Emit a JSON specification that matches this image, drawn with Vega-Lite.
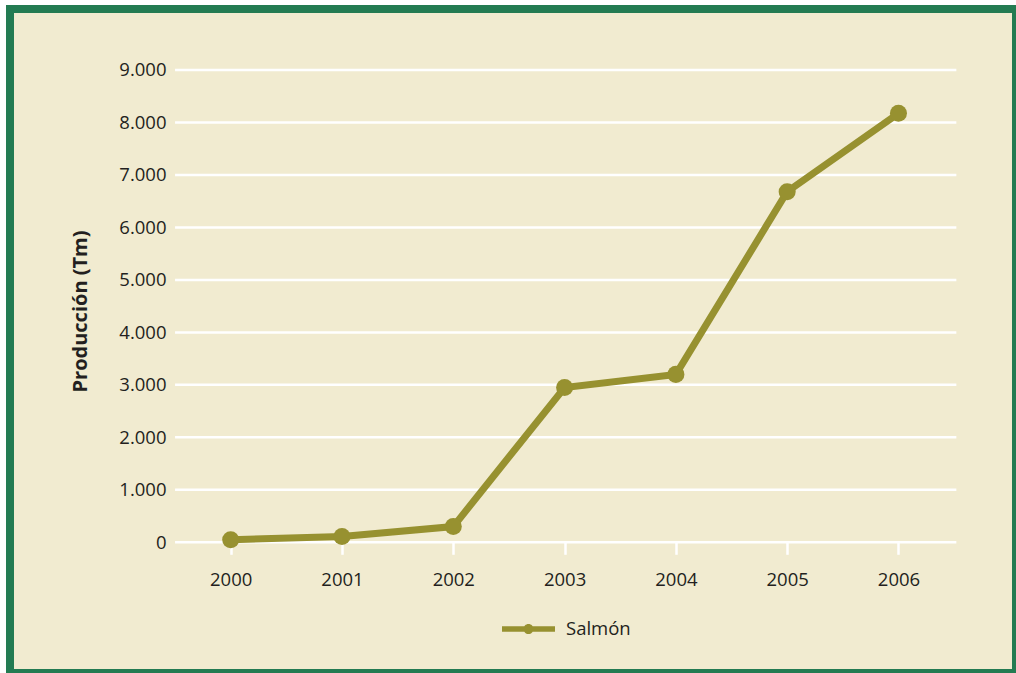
{
  "$schema": "https://vega.github.io/schema/vega-lite/v6.json",
  "width": 1006,
  "height": 664,
  "autosize": {"type": "none"},
  "padding": {"left": 10, "top": 9, "right": 0, "bottom": 0},
  "background": "#ffffff",
  "config": {
    "view": {"stroke": "#237b52", "strokeWidth": 8, "fill": "#f1ebd0"},
    "font": "Open Sans",
    "axis": {"labelColor": "#231f20", "titleColor": "#231f20", "labelFont": "Open Sans", "titleFont": "Open Sans"},
    "legend": {"labelColor": "#231f20", "labelFont": "Open Sans"}
  },
  "datasets": {
    "prod": [
      {"year": 2000, "value": 50, "serie": "Salmón"},
      {"year": 2001, "value": 110, "serie": "Salmón"},
      {"year": 2002, "value": 300, "serie": "Salmón"},
      {"year": 2003, "value": 2950, "serie": "Salmón"},
      {"year": 2004, "value": 3200, "serie": "Salmón"},
      {"year": 2005, "value": 6680, "serie": "Salmón"},
      {"year": 2006, "value": 8175, "serie": "Salmón"}
    ],
    "grid": [
      {"v": 0}, {"v": 1000}, {"v": 2000}, {"v": 3000}, {"v": 4000},
      {"v": 5000}, {"v": 6000}, {"v": 7000}, {"v": 8000}, {"v": 9000}
    ]
  },
  "layer": [
    {
      "data": {"name": "grid"},
      "mark": {"type": "rule", "color": "#ffffff", "strokeWidth": 2.5},
      "encoding": {
        "y": {
          "field": "v", "type": "quantitative",
          "scale": {"domain": [-2490, 10162], "nice": false, "zero": false},
          "axis": {
            "orient": "left", "offset": -165, "values": [0,1000,2000,3000,4000,5000,6000,7000,8000,9000],
            "labelExpr": "replace(format(datum.value, ',d'), ',', '.')",
            "ticks": false, "domain": false, "grid": false,
            "labelFontSize": 18.5, "labelPadding": 9,
            "title": "Producción (Tm)", "titleFontSize": 20, "titleFontWeight": "bold",
            "titleX": -95, "titleY": 302, "titleAngle": -90, "titleAlign": "center", "titleBaseline": "middle"
          }
        },
        "x": {
          "datum": 1999.5, "type": "quantitative",
          "scale": {"domain": [1998.017, 2007.056], "nice": false, "zero": false},
          "axis": {
            "orient": "bottom", "offset": -130.7, "values": [2000,2001,2002,2003,2004,2005,2006],
            "format": "d", "domain": false, "grid": false,
            "ticks": true, "tickColor": "#ffffff", "tickWidth": 2.5, "tickSize": 12,
            "labelFontSize": 18.5, "labelPadding": 16.5, "title": null
          }
        },
        "x2": {"datum": 2006.52}
      }
    },
    {
      "data": {"name": "prod"},
      "mark": {"type": "line", "color": "#979130", "strokeWidth": 7},
      "encoding": {
        "x": {"field": "year", "type": "quantitative"},
        "y": {"field": "value", "type": "quantitative"}
      }
    },
    {
      "data": {"name": "prod"},
      "mark": {"type": "point", "filled": true, "opacity": 1, "size": 290, "shape": "circle"},
      "encoding": {
        "x": {"field": "year", "type": "quantitative"},
        "y": {"field": "value", "type": "quantitative"},
        "color": {
          "field": "serie", "type": "nominal",
          "scale": {"range": ["#979130"]},
          "legend": {
            "orient": "none", "legendX": 492, "legendY": 593.5, "title": null, "padding": 0,
            "symbolType": "M-1,-0.1 L1,-0.1 L1,0.1 L-1,0.1 Z M-0.19,0 A0.19,0.19 0 1 1 0.19,0 A0.19,0.19 0 1 1 -0.19,0 Z",
            "symbolSize": 2809, "symbolStrokeWidth": 0, "symbolOpacity": 1,
            "labelFontSize": 18.5, "labelOffset": 11
          }
        }
      }
    }
  ]
}
